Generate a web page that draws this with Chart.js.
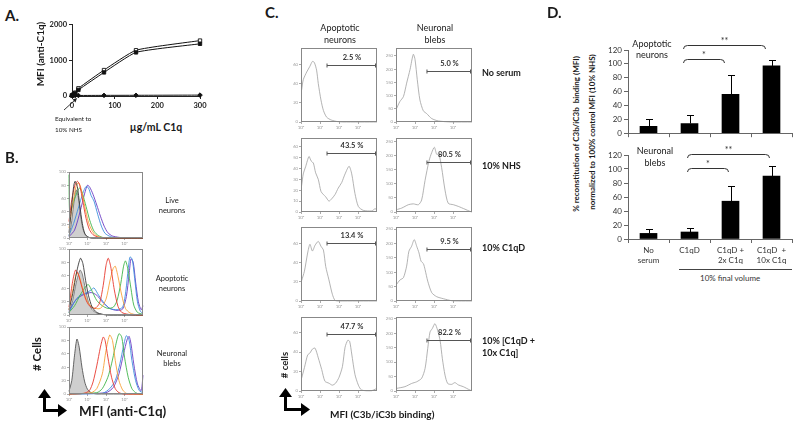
<!DOCTYPE html>
<html>
<head>
<meta charset="utf-8">
<script src="https://cdn.jsdelivr.net/npm/chart.js@4.4.0/dist/chart.umd.min.js"></script>
<style>
  body { margin: 0; background: #fff; }
  #fig { position: relative; width: 800px; height: 423px; overflow: hidden; background: #fff;
         font-family: Lato, "Open Sans", sans-serif; color: #1a1a1a; -webkit-font-smoothing: antialiased; }
  #fig canvas { position: absolute; }
  .t { position: absolute; white-space: pre; line-height: 1; }
  #ann { position: absolute; left: 0; top: 0; }
</style>
</head>
<body>
<div id="fig">
  <svg id="ann" width="800" height="423">
    <!-- Pfeil A -->
    <line x1="64" y1="110" x2="75" y2="100" stroke="#222" stroke-width="0.9"/>
    <polygon points="77,98 72.5,99.5 75.5,102.5" fill="#222"/>
    <!-- Achsenpfeil B -->
    <rect x="43" y="396" width="3" height="16" fill="#000"/>
    <polygon points="38,398 44.5,389 51,398" fill="#000"/>
    <rect x="43" y="409" width="16" height="3" fill="#000"/>
    <polygon points="58,404 67,410.5 58,417" fill="#000"/>
    <!-- Achsenpfeil C -->
    <rect x="284" y="395" width="3" height="16" fill="#000"/>
    <polygon points="279,397 285.5,388 292,397" fill="#000"/>
    <rect x="284" y="408" width="18" height="3" fill="#000"/>
    <polygon points="301,403 310,409.5 301,416" fill="#000"/>
    <!-- Linie unter D -->
    <line x1="679" y1="269.5" x2="792" y2="269.5" stroke="#444" stroke-width="1"/>
  </svg>
</div>
<script>
// ---------------- Daten ----------------

// A: MFI (anti-C1q) gegen C1q-Dosis
const aDose    = [0, 3.75, 7.5, 15, 75, 150, 300];
const aOpen    = [20, 50, 95, 215, 725, 1280, 1550];
const aFilled  = [15, 40, 75, 170, 660, 1220, 1460];
const aDiamond = [15, 15, 15, 15, 18, 20, 25];

// B: Histogramme (x = Dekade 10^0..10^4, y = # Cells)
const bLiveCtrl   = [[0,3],[0.12,20],[0.25,50],[0.38,73],[0.5,62],[0.62,35],[0.75,14],[0.9,4],[1.05,1],[1.3,0],[4,0]];
const bLiveDark   = [[0,8],[0.12,40],[0.25,78],[0.33,86],[0.45,78],[0.58,50],[0.72,22],[0.85,7],[1.0,2],[1.2,0],[4,0]];
const bLiveRed    = [[0,25],[0.15,58],[0.32,80],[0.45,86],[0.58,80],[0.75,55],[0.92,30],[1.1,13],[1.3,5],[1.6,1],[2,0],[4,0]];
const bLiveOrange = [[0,15],[0.18,48],[0.38,78],[0.52,84],[0.66,74],[0.85,48],[1.05,24],[1.25,11],[1.45,4],[1.75,1],[2.1,0],[4,0]];
const bLiveGreen  = [[0,96],[0.04,38],[0.25,55],[0.45,70],[0.58,76],[0.72,68],[0.92,48],[1.12,27],[1.32,12],[1.52,5],[1.8,1],[2.2,0],[4,0]];
const bLiveBlue   = [[0,4],[0.25,22],[0.5,45],[0.75,68],[0.92,78],[1.05,76],[1.2,64],[1.35,56],[1.55,36],[1.75,18],[1.95,7],[2.25,2],[2.6,0],[4,0]];
const bLivePurple = [[0,2],[0.3,12],[0.6,40],[0.85,68],[1.0,80],[1.12,77],[1.3,66],[1.5,50],[1.7,33],[1.9,18],[2.1,8],[2.35,3],[2.7,1],[3,0],[4,0]];

const bApopCtrl   = [[0,4],[0.2,22],[0.4,50],[0.6,68],[0.72,62],[0.88,40],[1.05,20],[1.25,8],[1.5,3],[1.8,1],[2.2,0],[4,0]];
const bApopDark   = [[0,8],[0.2,32],[0.42,66],[0.62,86],[0.75,78],[0.9,52],[1.05,30],[1.25,12],[1.5,4],[1.8,1],[2.2,0],[4,0]];
const bApopRed    = [[0,12],[0.18,48],[0.35,68],[0.5,62],[0.7,42],[0.9,24],[1.1,14],[1.4,10],[1.65,18],[1.85,45],[2.0,75],[2.12,86],[2.25,74],[2.45,38],[2.65,13],[2.85,4],[3.2,1],[3.6,0],[4,0]];
const bApopOrange = [[0,8],[0.22,40],[0.42,64],[0.56,58],[0.76,38],[1.0,20],[1.3,11],[1.7,10],[2.0,24],[2.2,50],[2.38,70],[2.5,74],[2.65,58],[2.85,30],[3.05,10],[3.3,3],[3.7,0],[4,0]];
const bApopGreen  = [[0,4],[0.3,14],[0.6,30],[0.9,43],[1.05,46],[1.25,36],[1.5,22],[1.8,14],[2.1,10],[2.4,12],[2.6,22],[2.8,48],[2.95,74],[3.05,82],[3.18,70],[3.35,40],[3.5,15],[3.7,4],[4,1]];
const bApopBlue   = [[0,4],[0.3,20],[0.6,30],[0.9,33],[1.2,38],[1.35,41],[1.6,30],[1.9,18],[2.2,10],[2.6,8],[2.9,12],[3.08,38],[3.2,70],[3.3,88],[3.42,84],[3.55,55],[3.7,20],[3.85,6],[4,2]];
const bApopPurple = [[0,6],[0.4,24],[0.8,31],[1.2,34],[1.5,30],[1.8,20],[2.2,10],[2.6,7],[2.9,9],[3.1,28],[3.25,62],[3.35,85],[3.47,80],[3.6,50],[3.75,20],[3.9,8],[4,14]];

const bBlebCtrl   = [[0,4],[0.15,20],[0.3,58],[0.43,82],[0.55,70],[0.7,40],[0.85,18],[1.0,7],[1.2,2],[1.5,0],[4,0]];
const bBlebRed    = [[0,0],[0.8,1],[1.1,5],[1.3,18],[1.5,42],[1.7,70],[1.85,85],[1.95,80],[2.1,55],[2.3,25],[2.5,8],[2.7,2],[3,0],[4,0]];
const bBlebOrange = [[0,0],[1.2,2],[1.5,8],[1.8,30],[2.0,65],[2.2,88],[2.35,80],[2.5,50],[2.7,20],[2.9,6],[3.1,1],[3.3,0],[4,0]];
const bBlebGreen  = [[0,0],[1.5,2],[1.8,8],[2.1,25],[2.3,45],[2.5,70],[2.7,90],[2.85,85],[3.0,55],[3.2,25],[3.4,8],[3.6,2],[3.8,0],[4,0]];
const bBlebBlue   = [[0,0],[1.8,1],[2.2,8],[2.5,20],[2.75,45],[2.95,72],[3.1,87],[3.25,80],[3.4,50],[3.6,20],[3.8,5],[4,2]];
const bBlebPurple = [[0,0],[2.0,2],[2.4,10],[2.7,30],[2.95,60],[3.15,82],[3.25,86],[3.35,75],[3.5,45],[3.7,15],[3.9,5],[4,28]];

// C: C3b/iC3b-Histogramme (Zeilen: Bedingung, Spalten: Apoptotic neurons / Neuronal blebs)
const cApopNoSerum = [[0.03,33],[0.12,44],[0.3,52],[0.47,58],[0.6,63],[0.7,62],[0.82,54],[0.91,40],[1.05,23],[1.18,12],[1.35,5],[1.6,2],[1.9,0.5],[2.2,0],[4,0]];
const cBlebNoSerum = [[0.03,51],[0.2,77],[0.39,96],[0.56,147],[0.74,199],[0.91,256],[1.0,237],[1.12,160],[1.26,83],[1.44,42],[1.61,32],[1.88,13],[2.23,4],[2.9,0],[4,0]];
const cApopNHS     = [[0.03,24],[0.12,35],[0.25,42],[0.42,51],[0.53,47],[0.65,45],[0.77,36],[0.91,30],[1.05,19],[1.18,16],[1.3,14],[1.47,10],[1.61,12],[1.79,16],[1.96,22],[2.14,27],[2.32,35],[2.53,42],[2.67,35],[2.84,17],[3.02,5],[3.28,1.5],[3.72,1],[3.9,3],[4,2]];
const cBlebNHS     = [[0.01,8],[0.3,14],[0.65,26],[0.91,29],[1.18,26],[1.35,43],[1.53,113],[1.74,183],[1.88,212],[2.02,231],[2.14,206],[2.26,206],[2.4,159],[2.58,78],[2.75,31],[3.02,26],[3.28,20],[3.63,10],[3.9,2],[4,0]];
const cApopC1qD    = [[0.03,21],[0.18,31],[0.35,50],[0.47,59],[0.6,52],[0.74,58],[0.91,62],[1.05,57],[1.18,53],[1.3,36],[1.47,22],[1.65,7],[1.79,0.7],[2,0],[4,0]];
const cBlebC1qD    = [[0.03,58],[0.21,73],[0.39,81],[0.56,121],[0.68,173],[0.82,190],[0.96,213],[1.09,190],[1.21,167],[1.32,138],[1.44,130],[1.53,109],[1.67,69],[1.88,29],[2.14,15],[2.49,8],[2.93,1],[3.3,0],[4,0]];
const cApopRescue  = [[0.03,13],[0.18,24],[0.35,37],[0.47,39],[0.6,43],[0.74,44],[0.91,34],[1.09,22],[1.26,10],[1.47,8],[1.65,6],[1.82,8],[2.0,14],[2.18,25],[2.32,45],[2.46,52],[2.56,51],[2.67,38],[2.84,17],[3.02,6],[3.19,1],[3.72,0.3],[3.93,2],[4,1]];
const cBlebRescue  = [[0.03,9],[0.47,15],[0.82,26],[1.09,32],[1.35,44],[1.53,78],[1.67,147],[1.79,204],[1.91,216],[2.05,233],[2.19,210],[2.32,175],[2.44,112],[2.58,55],[2.72,26],[2.93,23],[3.1,29],[3.28,21],[3.54,15],[3.9,3],[4,1]];

const cRows      = ['No serum', '10% NHS', '10% C1qD', '10% [C1qD +\n10x C1q]'];
const cGateFrom  = [1.37, 1.63];
const cGateLevel = [[59, 192], [54, 177], [60, 179], [59, 178]];
const cGatePct   = [['2.5 %', '5.0 %'], ['43.5 %', '80.5 %'], ['13.4 %', '9.5 %'], ['47.7 %', '82.2 %']];
const cYMax      = [[77, 280], [68, 264], [77, 257], [76, 256]];
const cYStep     = [[20, 50], [10, 50], [20, 50], [20, 50]];

// D: % Rekonstitution, Balken + obere Fehlerbalken
const dCats       = [['No', 'serum'], ['C1qD'], ['C1qD +', '2x C1q'], ['C1qD  +', '10x C1q']];
const dApop       = [10, 14, 56, 97];
const dApopErrTop = [21, 26, 84, 105];
const dBleb       = [8, 10, 54, 90];
const dBlebErrTop = [14, 16, 76, 105];
const dBrFrom     = [1, 1];
const dBrTo       = [3, 2];
const dBrMark     = ['**', '*'];
const dApopBrY    = [127, 107];
const dBlebBrY    = [121, 101];

// ---------------- Hilfsfunktionen ----------------
const fig = document.getElementById('fig');
const FONT = 'Lato, "Open Sans", sans-serif';
const SUP = ['\u2070', '\u00b9', '\u00b2', '\u00b3'];

function text(str, x, y, size, opt = {}) {
  const d = document.createElement('div');
  d.className = 't';
  d.textContent = str;
  d.style.left = x + 'px';
  d.style.top = y + 'px';
  d.style.fontSize = size + 'px';
  if (opt.bold) d.style.fontWeight = 'bold';
  if (opt.color) d.style.color = opt.color;
  if (opt.lh) d.style.lineHeight = opt.lh;
  const ax = opt.left ? '0' : '-50%';
  d.style.transform = `translate(${ax},-50%)` + (opt.rot ? ` rotate(${opt.rot}deg)` : '');
  fig.appendChild(d);
  return d;
}

// Rahmen um die Plotfläche (Histogramme)
const framePlugin = {
  id: 'frame',
  afterDatasetsDraw(chart, args, o) {
    if (!o.color) return;
    const a = chart.chartArea, ctx = chart.ctx;
    ctx.save();
    ctx.strokeStyle = o.color;
    ctx.lineWidth = 1;
    ctx.strokeRect(Math.round(a.left) + 0.5, Math.round(a.top) + 0.5,
                   Math.round(a.right - a.left) - 1, Math.round(a.bottom - a.top) - 1);
    ctx.restore();
  }
};

// Gate-Linie mit Endmarken
const gatePlugin = {
  id: 'gate',
  afterDatasetsDraw(chart, args, o) {
    if (o.y == null) return;
    const { ctx, scales: { x, y } } = chart;
    const x1 = x.getPixelForValue(o.from), x2 = x.getPixelForValue(4) - 1.5;
    const yy = Math.round(y.getPixelForValue(o.y)) + 0.5;
    ctx.save();
    ctx.strokeStyle = '#555';
    ctx.lineWidth = 1;
    ctx.beginPath();
    ctx.moveTo(x1, yy); ctx.lineTo(x2, yy);
    ctx.moveTo(x1, yy - 2); ctx.lineTo(x1, yy + 2);
    ctx.moveTo(x2, yy - 2); ctx.lineTo(x2, yy + 2);
    ctx.stroke();
    ctx.restore();
  }
};

// obere Fehlerbalken
const errPlugin = {
  id: 'errbars',
  afterDatasetsDraw(chart, args, o) {
    if (!o.tops) return;
    const { ctx } = chart, y = chart.scales.y;
    const meta = chart.getDatasetMeta(0);
    ctx.save();
    ctx.strokeStyle = '#000';
    ctx.lineWidth = 1;
    meta.data.forEach((bar, i) => {
      const t = Math.round(y.getPixelForValue(o.tops[i])) + 0.5;
      const bx = Math.round(bar.x) + 0.5;
      ctx.beginPath();
      ctx.moveTo(bx, bar.y); ctx.lineTo(bx, t);
      ctx.moveTo(bx - 3.5, t); ctx.lineTo(bx + 3.5, t);
      ctx.stroke();
    });
    ctx.restore();
  }
};

// Signifikanz-Klammern
const bracketPlugin = {
  id: 'brackets',
  afterDatasetsDraw(chart, args, o) {
    if (!o.ys) return;
    const { ctx, scales: { x, y } } = chart;
    ctx.save();
    ctx.strokeStyle = '#333';
    ctx.lineWidth = 1;
    o.ys.forEach((v, i) => {
      const x1 = x.getPixelForValue(o.from[i]) + o.shift;
      const x2 = x.getPixelForValue(o.to[i]) + o.shift;
      const yy = Math.round(y.getPixelForValue(v)) + 0.5;
      ctx.beginPath();
      ctx.moveTo(x1, yy + 3.5);
      ctx.quadraticCurveTo(x1, yy, x1 + 4, yy);
      ctx.lineTo(x2 - 4, yy);
      ctx.quadraticCurveTo(x2, yy, x2, yy + 3.5);
      ctx.stroke();
    });
    ctx.restore();
  }
};

Chart.register(framePlugin, gatePlugin, errPlugin, bracketPlugin);
Chart.defaults.font.family = FONT;
Chart.defaults.animation = false;
Chart.defaults.plugins.legend.display = false;
Chart.defaults.plugins.tooltip.enabled = false;

// Canvas so platzieren, dass die Plotfläche genau auf "area" liegt
function place(area, pad, config) {
  const c = document.createElement('canvas');
  const w = area.w + pad.l + pad.r, h = area.h + pad.t + pad.b;
  c.width = w; c.height = h;
  c.style.left = (area.x - pad.l) + 'px';
  c.style.top = (area.y - pad.t) + 'px';
  c.style.width = w + 'px';
  c.style.height = h + 'px';
  fig.appendChild(c);
  config.options.responsive = false;
  config.options.devicePixelRatio = 1;
  config.options.layout = { padding: { left: 0, top: pad.t, right: pad.r, bottom: 0 } };
  config.options.scales.x.afterFit = s => { s.height = pad.b; };
  config.options.scales.y.afterFit = s => { s.width = pad.l; };
  const chart = new Chart(c, config);
  return { chart, ox: area.x - pad.l, oy: area.y - pad.t };
}

function fixedTicks(vals) {
  return s => { s.ticks = vals.map(v => ({ value: v })); };
}

// Histogramm-Box (B und C)
function histo(area, curves, yMax, yStep, gate, tickColor) {
  const yt = [];
  for (let v = 0; v <= yMax + 0.01; v += yStep) yt.push(v);
  const datasets = curves.map(cv => ({
    data: cv.pts.map(p => ({ x: p[0], y: p[1] })),
    showLine: true,
    borderColor: cv.color,
    borderWidth: cv.width || 0.9,
    pointRadius: 0,
    tension: 0.25,
    fill: cv.fill ? 'origin' : false,
    backgroundColor: cv.fill || 'transparent',
    order: cv.fill ? 10 : 0,
    clip: 1
  }));
  return place(area, { l: 13, t: 4, r: 3, b: 10 }, {
    type: 'scatter',
    data: { datasets },
    options: {
      plugins: { frame: { color: '#888' }, gate: gate || {} },
      scales: {
        x: {
          type: 'linear', min: 0, max: 4,
          afterBuildTicks: fixedTicks([0, 1, 2, 3]),
          ticks: { callback: v => '10' + SUP[v], font: { size: 4.5 }, color: tickColor, padding: 1, maxRotation: 0, autoSkip: false },
          grid: { drawOnChartArea: false, tickLength: 2, color: '#aaa' },
          border: { display: false }
        },
        y: {
          min: 0, max: yMax,
          afterBuildTicks: fixedTicks(yt),
          ticks: { font: { size: 4.2 }, color: tickColor, padding: 1, autoSkip: false },
          grid: { drawOnChartArea: false, tickLength: 2, color: '#aaa' },
          border: { display: false }
        }
      }
    }
  });
}

// ---------------- Panel A ----------------
text('A.', 5, 15, 15, { left: true, bold: true });
const aLine = (vals, style, fillCol) => ({
  data: aDose.map((d, i) => ({ x: d, y: vals[i] })),
  showLine: true,
  borderColor: '#111',
  borderWidth: 1,
  pointStyle: style,
  pointRadius: style === 'rectRot' ? 2.3 : 2.4,
  pointBackgroundColor: fillCol,
  pointBorderColor: '#111',
  pointBorderWidth: 0.9,
  tension: 0.15,
  clip: false
});
place({ x: 72, y: 24, w: 128, h: 72 }, { l: 32, t: 6, r: 10, b: 18 }, {
  type: 'scatter',
  data: { datasets: [aLine(aDiamond, 'rectRot', '#111'), aLine(aFilled, 'rect', '#111'), aLine(aOpen, 'rect', '#fff')] },
  options: {
    scales: {
      x: {
        type: 'linear', min: 0, max: 300,
        ticks: { stepSize: 100, font: { size: 7.5, weight: 'bold' }, color: '#222', padding: 2, maxRotation: 0 },
        grid: { drawOnChartArea: false, tickLength: 3, color: '#222' },
        border: { color: '#222' }
      },
      y: {
        min: 0, max: 2000,
        ticks: { stepSize: 1000, callback: v => String(v), font: { size: 7.5, weight: 'bold' }, color: '#222', padding: 2 },
        grid: { drawOnChartArea: false, tickLength: 3, color: '#222' },
        border: { color: '#222' }
      }
    }
  }
});
text('MFI (anti-C1q)', 40, 54, 10, { bold: true, rot: -90 });
text('\u00b5g/mL C1q', 156, 127, 10.5, { bold: true });
text('Equivalent to', 55, 119, 6.3, { left: true });
text('10% NHS', 55, 129.5, 6.3, { left: true });

// ---------------- Panel B ----------------
text('B.', 5, 157, 15, { left: true, bold: true });
const RED = '#e8392f', ORANGE = '#f7a23a', GREEN = '#3fb54a', BLUE = '#3e8ede', PURPLE = '#6a3bc4', DARK = '#3a3a3a';
const bTick = '#999';
histo({ x: 69, y: 172, w: 74, h: 66 }, [
  { pts: bLiveCtrl, color: '#777', fill: '#cfcfcf' },
  { pts: bLiveDark, color: DARK },
  { pts: bLiveRed, color: RED },
  { pts: bLiveOrange, color: ORANGE },
  { pts: bLiveGreen, color: GREEN },
  { pts: bLiveBlue, color: BLUE },
  { pts: bLivePurple, color: PURPLE }
], 100, 20, null, bTick);
histo({ x: 69, y: 249, w: 74, h: 66 }, [
  { pts: bApopCtrl, color: '#777', fill: '#cfcfcf' },
  { pts: bApopDark, color: DARK },
  { pts: bApopRed, color: RED },
  { pts: bApopOrange, color: ORANGE },
  { pts: bApopGreen, color: GREEN },
  { pts: bApopBlue, color: BLUE },
  { pts: bApopPurple, color: PURPLE }
], 100, 20, null, bTick);
histo({ x: 69, y: 327, w: 74, h: 67 }, [
  { pts: bBlebCtrl, color: '#555', fill: '#cfcfcf' },
  { pts: bBlebRed, color: RED },
  { pts: bBlebOrange, color: ORANGE },
  { pts: bBlebGreen, color: GREEN },
  { pts: bBlebBlue, color: BLUE },
  { pts: bBlebPurple, color: PURPLE }
], 100, 20, null, bTick);
text('Live', 172, 201, 7.5);
text('neurons', 172, 211, 7.5);
text('Apoptotic', 172, 279, 7.5);
text('neurons', 172, 289, 7.5);
text('Neuronal', 172, 354, 7.5);
text('blebs', 172, 364, 7.5);
text('# Cells', 37, 354, 11.5, { bold: true, rot: -90 });
text('MFI (anti-C1q)', 79, 412, 13.5, { left: true, bold: true });

// ---------------- Panel C ----------------
text('C.', 265, 12, 15, { left: true, bold: true });
const cCurves = [[cApopNoSerum, cBlebNoSerum], [cApopNHS, cBlebNHS], [cApopC1qD, cBlebC1qD], [cApopRescue, cBlebRescue]];
const cLeft = [301, 396];
const cTop = [48, 138, 227, 317];
cCurves.forEach((row, r) => {
  row.forEach((pts, k) => {
    const h = histo({ x: cLeft[k], y: cTop[r], w: 76, h: 74 },
      [{ pts, color: '#a0a0a0', width: 0.8 }], cYMax[r][k], cYStep[r][k],
      { from: cGateFrom[k], y: cGateLevel[r][k] }, '#999');
    const sx = h.chart.scales.x, sy = h.chart.scales.y;
    const mid = (sx.getPixelForValue(cGateFrom[k]) + sx.getPixelForValue(4)) / 2;
    text(cGatePct[r][k], h.ox + mid, h.oy + sy.getPixelForValue(cGateLevel[r][k]) - 7, 7.5, { bold: true, color: '#333' });
  });
});
text('Apoptotic', 340, 27, 9);
text('neurons', 340, 38.5, 9);
text('Neuronal', 435, 27, 9);
text('blebs', 435, 38.5, 9);
const cRowY = [73, 166, 248, 347];
cRows.forEach((s, r) => text(s, 482, cRowY[r], 9, { left: true, bold: true, lh: '12px' }));
text('# cells', 285, 365, 9.5, { bold: true, rot: -90 });
text('MFI (C3b/iC3b binding)', 330, 414, 10, { left: true, bold: true });

// ---------------- Panel D ----------------
text('D.', 547, 12, 15, { left: true, bold: true });
text('% reconstitution of C3b/iC3b  binding (MFI)', 576, 134, 8, { bold: true, rot: -90 });
text('normalized to 100% control MFI (10% NHS)', 592, 132, 8, { bold: true, rot: -90 });

function bars(area, pad, vals, tops, brY, shift, showLabels) {
  const h = place(area, pad, {
    type: 'bar',
    data: {
      labels: dCats,
      datasets: [{ data: vals, backgroundColor: '#000', barThickness: 17 }]
    },
    options: {
      plugins: {
        errbars: { tops },
        brackets: { ys: brY, from: dBrFrom, to: dBrTo, shift }
      },
      scales: {
        x: {
          ticks: { display: true, callback: (v, i) => showLabels ? dCats[i] : '', font: { size: 8 }, color: '#333', padding: 3, maxRotation: 0, autoSkip: false },
          grid: { offset: true, drawOnChartArea: false, tickLength: 4, color: '#666' },
          border: { color: '#666' }
        },
        y: {
          min: 0, max: 120,
          ticks: { stepSize: 20, font: { size: 8 }, color: '#333', padding: 2 },
          grid: { drawOnChartArea: false, tickLength: 4, color: '#666' },
          border: { color: '#666' }
        }
      }
    }
  });
  const sx = h.chart.scales.x, sy = h.chart.scales.y;
  brY.forEach((v, i) => {
    const mid = (sx.getPixelForValue(dBrFrom[i]) + sx.getPixelForValue(dBrTo[i])) / 2 + shift;
    text(dBrMark[i], h.ox + mid, h.oy + sy.getPixelForValue(v) - 5, 9, { color: '#333' });
  });
  return h;
}
bars({ x: 628, y: 50, w: 164, h: 84 }, { l: 32, t: 16, r: 6, b: 6 }, dApop, dApopErrTop, dApopBrY, -6, false);
bars({ x: 628, y: 155, w: 164, h: 84 }, { l: 32, t: 8, r: 6, b: 30 }, dBleb, dBlebErrTop, dBlebBrY, -2, true);
text('Apoptotic', 652, 43, 9);
text('neurons', 652, 54, 9);
text('Neuronal', 655, 150, 9);
text('blebs', 655, 161.5, 9);
text('10% final volume', 700, 278, 8, { left: true, color: '#333' });
</script>
</body>
</html>
